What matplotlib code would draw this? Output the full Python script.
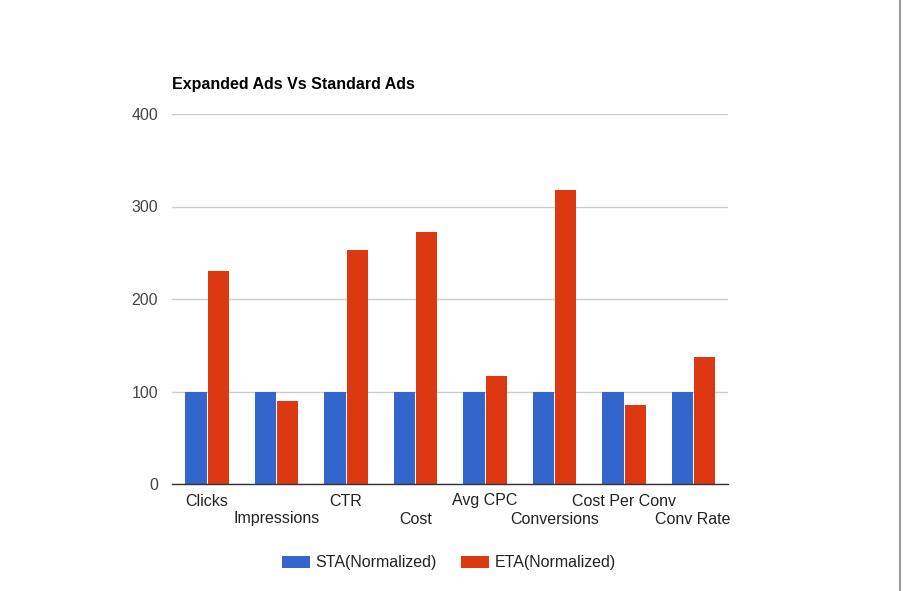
import matplotlib
matplotlib.use("Agg")
import matplotlib.pyplot as plt
import numpy as np
from matplotlib.patches import Patch
from matplotlib.lines import Line2D

categories = ["Clicks", "Impressions", "CTR", "Cost", "Avg CPC",
              "Conversions", "Cost Per Conv", "Conv Rate"]
sta_values = [100, 100, 100, 100, 100, 100, 100, 100]
eta_values = [230, 90, 253, 272, 117, 318, 85, 137]
y_ticks = [0, 100, 200, 300, 400]
series_names = ["STA(Normalized)", "ETA(Normalized)"]
title = "Expanded Ads Vs Standard Ads"

BLUE = "#3366cc"
RED = "#dc3912"

plt.rcParams['font.family'] = ['Liberation Sans', 'DejaVu Sans']

fig = plt.figure(figsize=(9.04, 5.91), dpi=100)
ax = fig.add_axes([172/904, 1-484/591, (728-172)/904, (484-114)/591])

x = np.arange(len(categories))
w = 0.305
ax.bar(x - 0.155, sta_values, width=w, color=BLUE, edgecolor="none", zorder=3)
ax.bar(x + 0.165, eta_values, width=w, color=RED, edgecolor="none", zorder=3)

ax.set_xlim(-0.5, len(categories) - 0.5)
ax.set_ylim(0, 400)
ax.set_yticks(y_ticks)
ax.set_yticklabels([str(v) for v in y_ticks])
ax.tick_params(axis='y', length=0, pad=10, labelsize=11.5, labelcolor="#444444")
ax.grid(axis='y', color="#cccccc", linewidth=1, zorder=0)
ax.set_axisbelow(True)
for s in ["top", "right", "left"]:
    ax.spines[s].set_visible(False)
ax.spines["bottom"].set_color("#333333")
ax.spines["bottom"].set_linewidth(1)
ax.spines["bottom"].set_zorder(4)

ax.set_xticks(x)
ax.set_xticklabels([])
ax.tick_params(axis='x', length=0)
for i, c in enumerate(categories):
    yoff = -17 if i % 2 == 0 else -35
    ax.annotate(c, xy=(i, 0), xycoords=('data', 'axes fraction'),
                xytext=(0, yoff), textcoords='offset pixels',
                ha='center', va='center', fontsize=11.5, color="#222222")

fig.text(172/904, 1-84/591, title, fontsize=11.5, fontweight='bold',
         ha='left', va='center', color="#000000")

handles = [Patch(facecolor=BLUE, edgecolor='none'), Patch(facecolor=RED, edgecolor='none')]
fig.legend(handles, series_names, loc='center', bbox_to_anchor=(449/904, 1-563/591),
           ncol=2, frameon=False, fontsize=11.5, handlelength=1.75, handleheight=0.8,
           handletextpad=0.35, columnspacing=1.5, labelcolor="#222222")

fig.add_artist(Line2D([900/904, 900/904], [0, 1], transform=fig.transFigure,
                      color="#999999", linewidth=1.5))

fig.savefig("out.png", dpi=100, facecolor="white")
